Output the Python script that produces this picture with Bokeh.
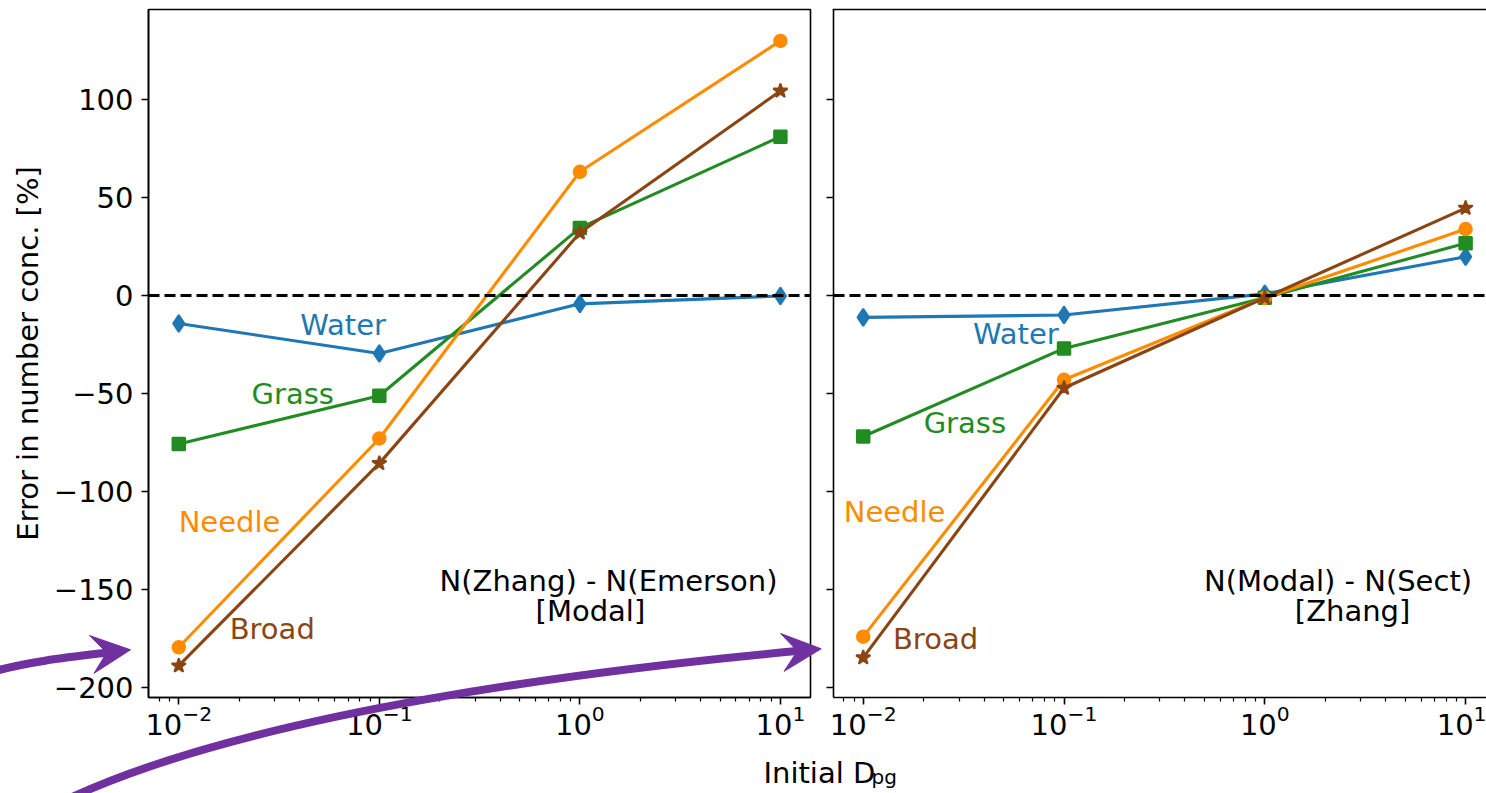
import math
from bokeh.plotting import figure
from bokeh.models import Range1d, FixedTicker, Span, GridBox
from bokeh.core.properties import value
from bokeh.embed import file_html
from bokeh.resources import INLINE

# ---------------- data ----------------
x_dpg = [0.01, 0.1, 1.0, 10.0]
series = ["Water", "Grass", "Needle", "Broad"]
colors = ["#1f77b4", "#228b22", "#ff8c00", "#8b4513"]
markers = ["diamond", "square", "circle", "star"]

left_water = [-14.3, -29.6, -4.3, -0.3]
left_grass = [-75.7, -51.1, 34.4, 80.9]
left_needle = [-179.3, -72.9, 63.0, 129.7]
left_broad = [-188.7, -85.6, 31.9, 104.2]

right_water = [-11.2, -10.0, 0.8, 19.7]
right_grass = [-71.9, -27.0, -1.2, 26.6]
right_needle = [-173.9, -43.0, -1.2, 33.8]
right_broad = [-184.6, -47.2, -1.2, 44.5]

y_ticks = [-200, -150, -100, -50, 0, 50, 100]
x_ticks = [0.01, 0.1, 1.0, 10.0]
x_minor = [m * 10.0 ** e for e in range(-3, 2) for m in range(2, 10)]

left_title = ["N(Zhang) - N(Emerson)", "[Modal]"]
right_title = ["N(Modal) - N(Sect)", "[Zhang]"]
y_label = "Error in number conc. [%]"

# label placement (log10 x, y)
left_lab_lx = [-1.181, -1.432, -1.747, -1.534]
left_lab_y = [-15.0, -50.0, -115.3, -170.0]
right_lab_lx = [-1.24, -1.494, -1.844, -1.64]
right_lab_y = [-19.7, -65.2, -110.2, -174.9]
left_title_lx = [0.143, 0.0524]
right_title_lx = [0.3646, 0.437]
title_y = [-145.4, -160.7]

FONT = "DejaVu Sans"
FS = "29px"
msize = {"diamond": 17, "square": 12.5, "circle": 12.5, "star": 15}
PURPLE = "#7030a0"

H = 793
W1 = 820
W2 = 1486 - W1
YR = (-204.9, 145.7)


def style_axes(p):
    for ax in p.xaxis + p.yaxis:
        ax.major_tick_out = 7
        ax.major_tick_in = 0
        ax.minor_tick_out = 4
        ax.minor_tick_in = 0
        ax.major_tick_line_width = 1.6
        ax.minor_tick_line_width = 1.2
        ax.major_tick_line_color = "black"
        ax.minor_tick_line_color = "black"
        ax.axis_line_color = "black"
        ax.axis_line_width = 1.6
        ax.major_label_text_font = FONT
        ax.major_label_text_font_size = FS
        ax.major_label_text_color = "black"
    p.xaxis.ticker = FixedTicker(ticks=x_ticks, minor_ticks=x_minor)
    p.yaxis.ticker = FixedTicker(ticks=y_ticks, minor_ticks=[])
    p.xaxis.major_label_standoff = 0
    p.yaxis.major_label_standoff = 8
    p.grid.visible = False


def draw_series(p, ys_list):
    for ys, c, m in zip(ys_list, colors, markers):
        p.line(x_dpg, ys, line_color=c, line_width=3.1)
        p.scatter(x_dpg, ys, marker=m, size=msize[m], fill_color=c,
                  line_color=c, line_width=2)
    p.add_layout(Span(location=0, dimension="width", line_color="black",
                      line_width=3, line_dash="11 5"))


# ---------------- left panel ----------------
p1 = figure(width=W1, height=H, x_axis_type="log",
            x_range=Range1d(10 ** -2.151, 10 ** 1.150), y_range=Range1d(*YR),
            output_backend="svg", toolbar_location=None, tools="",
            min_border_left=148, min_border_right=W1 - 810,
            min_border_top=9, min_border_bottom=H - 697)
p1.outline_line_color = "black"
p1.outline_line_width = 1.6
p1.outline_line_alpha = 1.0
style_axes(p1)
p1.yaxis.major_label_overrides = {t: str(t).replace("-", "\u2212") for t in y_ticks}
p1.yaxis.axis_label = y_label
p1.yaxis.axis_label_text_font = FONT
p1.yaxis.axis_label_text_font_size = FS
p1.yaxis.axis_label_text_font_style = "normal"
p1.yaxis.axis_label_text_color = "black"
p1.yaxis.axis_label_standoff = 6
draw_series(p1, [left_water, left_grass, left_needle, left_broad])
p1.text(x=[10 ** v for v in left_lab_lx], y=left_lab_y, text=series,
        text_color=colors, text_font=value(FONT), text_font_size=FS,
        text_align="center", text_baseline="alphabetic")
p1.text(x=[10 ** v for v in left_title_lx], y=title_y, text=left_title,
        text_color="black", text_font=value(FONT), text_font_size=FS,
        text_align="center", text_baseline="alphabetic")

# ---------------- right panel ----------------
p2 = figure(width=W2, height=H, x_axis_type="log",
            x_range=Range1d(10 ** -2.148, 10 ** (-2.148 + 653 / 200.8)),
            y_range=Range1d(*YR),
            output_backend="svg", toolbar_location=None, tools="",
            min_border_left=833 - W1, min_border_right=0,
            min_border_top=9, min_border_bottom=H - 697)
p2.outline_line_color = None
style_axes(p2)
p2.yaxis.major_label_text_font_size = "1px"
p2.yaxis.major_label_text_color = None
p2.yaxis.major_label_standoff = 0
draw_series(p2, [right_water, right_grass, right_needle, right_broad])
p2.text(x=[10 ** v for v in right_lab_lx], y=right_lab_y, text=series,
        text_color=colors, text_font=value(FONT), text_font_size=FS,
        text_align="center", text_baseline="alphabetic")
p2.text(x=[10 ** v for v in right_title_lx], y=title_y, text=right_title,
        text_color="black", text_font=value(FONT), text_font_size=FS,
        text_align="center", text_baseline="alphabetic")

# ---------------- overlay (shared x label, top spine, arrows) ----------------
# The grid aligns this figure's frame with the panels' frames (x 148..1486,
# y 9..697), so these ranges make one data unit equal one window pixel.
ov = figure(width=1486, height=H, x_range=Range1d(148, 1486),
            y_range=Range1d(697, 9),
            x_axis_type=None, y_axis_type=None, output_backend="svg",
            toolbar_location=None, tools="", min_border=0)
ov.outline_line_color = None
ov.background_fill_alpha = 0
ov.border_fill_alpha = 0
ov.grid.visible = False

rs = []
# top spine of the right panel (its frame runs past the window edge)
rs.append(ov.line(x=[832.2, 1486], y=[9, 9], line_color="black", line_width=1.6))

rs.append(ov.text(x=[763], y=[772.5], text=["Initial D"], text_color="black",
                  text_font=value(FONT), text_font_size=FS, text_align="left",
                  text_baseline="alphabetic"))
rs.append(ov.text(x=[871], y=[776.5], text=["pg"], text_color="black",
                  text_font=value(FONT), text_font_size="20px", text_align="left",
                  text_baseline="alphabetic"))


def arrow(p0, p1_, slope, tip, L=39, Wd=19, notch=24):
    n = math.hypot(1, slope)
    ux, uy = 1 / n, slope / n
    nx, ny = -uy, ux
    bx, by = tip[0] - notch * ux, tip[1] - notch * uy
    k = 0.35 * math.hypot(bx - p1_[0], by - p1_[1])
    c1 = (bx - k * ux, by - k * uy)
    rs.append(ov.bezier(x0=[p0[0]], y0=[p0[1]], x1=[bx + 2 * ux], y1=[by + 2 * uy],
                        cx0=[p1_[0]], cy0=[p1_[1]], cx1=[c1[0]], cy1=[c1[1]],
                        line_color=PURPLE, line_width=8))
    wx, wy = tip[0] - L * ux, tip[1] - L * uy
    xs = [tip[0], wx + Wd * nx, bx, wx - Wd * nx]
    ys = [tip[1], wy + Wd * ny, by, wy - Wd * ny]
    rs.append(ov.patch(xs, ys, fill_color=PURPLE, line_color=PURPLE, line_width=1))


arrow((-10, 672), (25, 661), -0.12, (130, 649.3))
arrow((60, 802), (250, 710), -0.093, (820.7, 648.3))

for r in rs:
    r.level = "overlay"

layout = GridBox(children=[(p1, 0, 0), (p2, 0, 1), (ov, 0, 0, 1, 2)], spacing=0)

open("out.html", "w").write(file_html(layout, INLINE))
